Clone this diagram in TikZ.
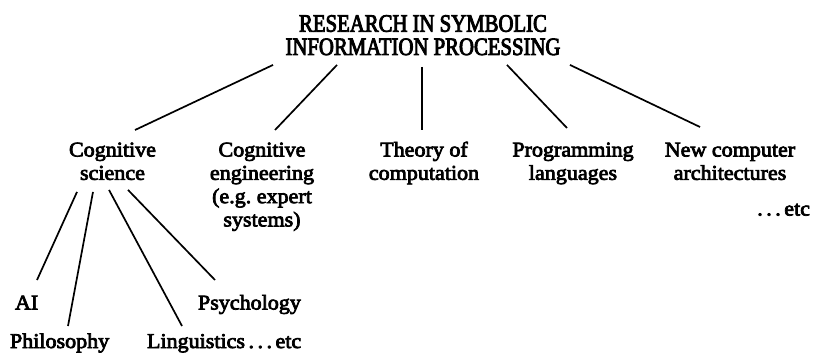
\documentclass[tikz,border=0pt]{standalone}
\usepackage{fontspec}
\setmainfont{Liberation Serif}[FakeStretch=1.05,FakeBold=3.5]
\newfontfamily\titlefont{Liberation Serif}[FakeStretch=0.83,FakeBold=3.5]
\usetikzlibrary{calc}
\begin{document}
\begin{tikzpicture}[x=1pt,y=-1pt,
  lbl/.style={inner sep=0pt, outer sep=0pt, font=\fontsize{21}{23.3}\selectfont, align=center},
  ttl/.style={inner sep=0pt, outer sep=0pt, font=\titlefont\fontsize{25}{23.3}\selectfont, align=center},
  conn/.style={line width=1.7pt}]
\useasboundingbox[fill=white] (0,0) rectangle (813,353);
\node[ttl, anchor=north] (title) at (423,13.7) {\rule{0pt}{18pt}RESEARCH IN SYMBOLIC\\INFORMATION PROCESSING};
\node[lbl, anchor=north] (cs) at (112.5,140.5) {\rule{0pt}{16pt}Cognitive\\science};
\node[lbl, anchor=north] (ce) at (262,140.5) {\rule{0pt}{16pt}Cognitive\\engineering\\(e.g.\ expert\\systems)};
\node[lbl, anchor=north] (tc) at (424,140.5) {\rule{0pt}{16pt}Theory of\\computation};
\node[lbl, anchor=north] (pl) at (573,140.5) {\rule{0pt}{16pt}Programming\\languages};
\node[lbl, anchor=north] (nca) at (730,140.5) {\rule{0pt}{16pt}New computer\\architectures};
\node[lbl, anchor=base east] (etc) at (810,215.5) {.\,.\,.\,etc};
\node[lbl, anchor=base west] (ai) at (15,309.5) {AI};
\node[lbl, anchor=base west] (psy) at (198,309.5) {Psychology};
\node[lbl, anchor=base west] (phil) at (10,348) {Philosophy};
\node[lbl, anchor=base west] (ling) at (147,348) {Linguistics\,.\,.\,.\,etc};
% top-level connectors
\draw[conn] ($(title.south)+(-150,9.7)$) -- ($(cs.north)+(22.5,-10.5)$);
\draw[conn] ($(title.south)+(-86,9.7)$) -- ($(ce.north)+(13,-10.5)$);
\draw[conn] ($(title.south)+(-1,11.7)$) -- ($(tc.north)+(-2,-10.5)$);
\draw[conn] ($(title.south)+(84,9.7)$) -- ($(pl.north)+(-6,-12.5)$);
\draw[conn] ($(title.south)+(147,9.7)$) -- ($(nca.north)+(-30,-13.5)$);
% cognitive science connectors
\draw[conn] ($(cs.south)+(-35.5,11.9)$) -- ($(ai.base west)+(22,-29.5)$);
\draw[conn] ($(cs.south)+(-19.5,11.9)$) -- ($(phil.base west)+(58,-22)$);
\draw[conn] ($(cs.south)+(-3.5,9.9)$) -- ($(ling.base west)+(35,-22)$);
\draw[conn] ($(cs.south)+(15.5,9.9)$) -- ($(psy.base west)+(17,-29.5)$);
\end{tikzpicture}
\end{document}
